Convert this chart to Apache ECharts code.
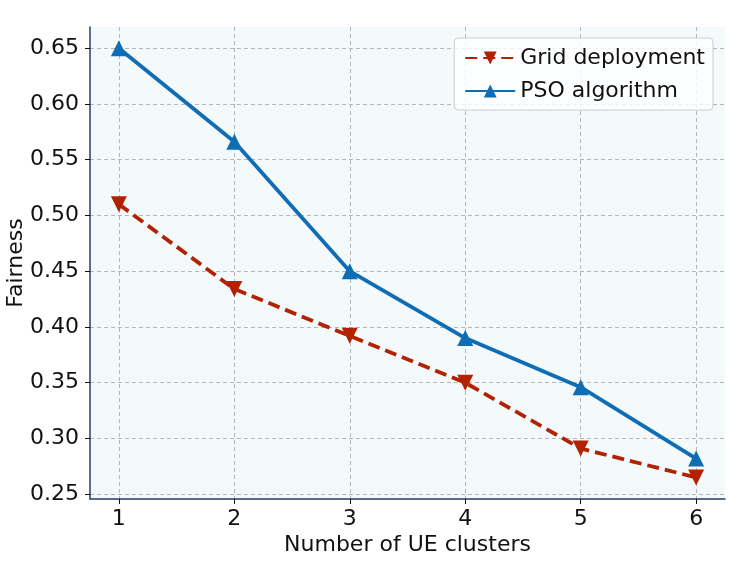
<!DOCTYPE html>
<html lang="en">
<head>
    <meta charset="UTF-8">
    <title>Fairness vs UE clusters</title>
    <script src="https://cdn.jsdelivr.net/npm/echarts@6/dist/echarts.min.js"></script>
    <style>
        html, body { margin: 0; padding: 0; background: #fff; }
        #chart { width: 747px; height: 561px; }
    </style>
</head>
<body>
    <div id="chart"></div>
    <script>
        // 数据
        const clusters = [1, 2, 3, 4, 5, 6];
        const gridDeployment = [0.510, 0.434, 0.392, 0.350, 0.291, 0.265];
        const psoAlgorithm = [0.650, 0.566, 0.450, 0.390, 0.346, 0.282];
        const yTicks = [0.25, 0.30, 0.35, 0.40, 0.45, 0.50, 0.55, 0.60, 0.65];

        const font = 'DejaVu Sans';
        const toPairs = (xs, ys) => xs.map((x, i) => [x, ys[i]]);

        const chart = echarts.init(document.getElementById('chart'));
        chart.setOption({
            animation: false,
            textStyle: { fontFamily: font },
            grid: {
                left: 90, right: 22, top: 27, bottom: 62,
                outerBoundsMode: 'none',
                containLabel: false,
                show: true,
                backgroundColor: '#f4f9fc',
                borderWidth: 0
            },
            legend: {
                right: 34, top: 38,
                orient: 'vertical',
                itemWidth: 50, itemHeight: 16, itemGap: 11,
                padding: [9, 8, 8, 10],
                backgroundColor: 'rgba(255,255,255,0.8)',
                borderColor: '#cccccc', borderWidth: 1, borderRadius: 4,
                textStyle: { fontFamily: font, fontSize: 22, color: '#111' },
                data: ['Grid deployment', 'PSO algorithm']
            },
            xAxis: {
                type: 'value',
                min: 0.75, max: 6.25,
                name: 'Number of UE clusters',
                nameLocation: 'middle',
                nameGap: 35,
                nameMoveOverlap: false,
                nameTextStyle: { fontFamily: font, fontSize: 22, color: '#111' },
                axisLine: { onZero: false, lineStyle: { color: '#2b3a6e', width: 1.5 } },
                axisTick: { show: true, length: 5, customValues: clusters, lineStyle: { color: '#111' } },
                axisLabel: { customValues: clusters, fontSize: 22, color: '#111', margin: 9 },
                splitLine: { show: true, lineStyle: { color: '#b5b5b5', type: [4, 3], width: 1 } }
            },
            yAxis: {
                type: 'value',
                min: 0.2457, max: 0.669,
                name: 'Fairness',
                nameLocation: 'middle',
                nameGap: 63,
                nameMoveOverlap: false,
                nameTextStyle: { fontFamily: font, fontSize: 22, color: '#111' },
                axisLine: { show: true, onZero: false, lineStyle: { color: '#2b3a6e', width: 1.5 } },
                axisTick: { show: true, length: 5, customValues: yTicks, lineStyle: { color: '#111' } },
                axisLabel: {
                    customValues: yTicks, fontSize: 22, color: '#111', margin: 11,
                    formatter: v => v.toFixed(2)
                },
                splitLine: { show: true, lineStyle: { color: '#b5b5b5', type: [4, 3], width: 1 } }
            },
            series: [
                {
                    name: 'Grid deployment',
                    type: 'line',
                    data: toPairs(clusters, gridDeployment),
                    symbol: 'triangle',
                    symbolRotate: 180,
                    symbolSize: 16,
                    color: '#b32200',
                    lineStyle: { width: 3.8, type: [12, 6] },
                    itemStyle: { color: '#b32200' },
                    z: 2
                },
                {
                    name: 'PSO algorithm',
                    type: 'line',
                    data: toPairs(clusters, psoAlgorithm),
                    symbol: 'triangle',
                    symbolSize: 16,
                    color: '#0e6db4',
                    lineStyle: { width: 3.8 },
                    itemStyle: { color: '#0e6db4' },
                    z: 3
                }
            ]
        });
    </script>
</body>
</html>
